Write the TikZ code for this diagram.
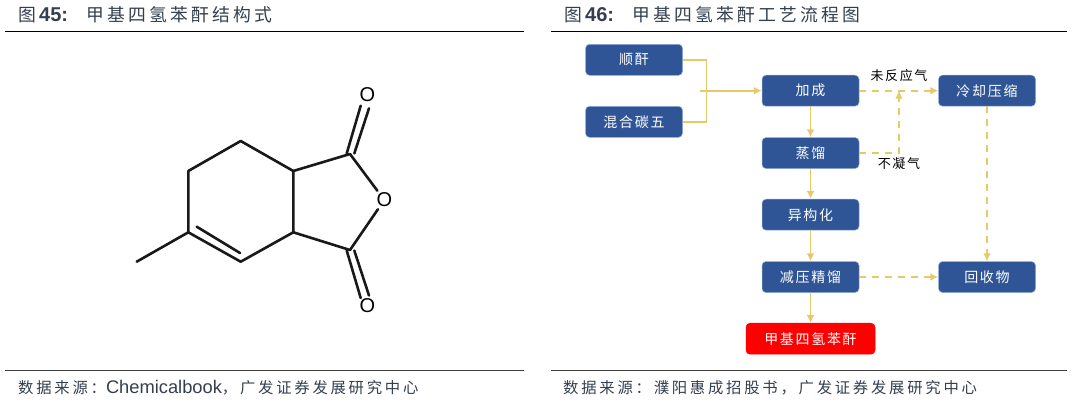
\documentclass[tikz,border=0pt]{standalone}
\usepackage{fontspec}
\setmainfont{Liberation Sans}
\newfontfamily\cjk[LetterSpace=18]{Noto Sans CJK SC}
\newfontfamily\cjkbox[LetterSpace=12]{Noto Sans CJK SC}
\usetikzlibrary{positioning}
\usetikzlibrary{arrows.meta}
\definecolor{boxblue}{HTML}{2F5597}
\definecolor{boxedge}{HTML}{8FAADC}
\definecolor{lineyellow}{HTML}{E8C968}
\definecolor{titlegray}{HTML}{333F4F}
\tikzset{
    stepbox/.style = {rectangle, rounded corners=4pt, draw=boxedge, line width=0.5pt, fill=boxblue, text=white, minimum width=97pt, minimum height=31pt, inner sep=0pt, font=\fontsize{14}{16}\selectfont\cjkbox},
    prodbox/.style = {stepbox, draw=red, fill=red, minimum width=129pt},
    titletext/.style = {anchor=west, inner sep=0pt, text=titlegray, font=\fontsize{17.8}{20}\selectfont},
    srctext/.style = {anchor=west, inner sep=0pt, text=titlegray, font=\fontsize{15.35}{18}\selectfont},
    linelabel/.style = {inner sep=0pt, font=\fontsize{13}{15}\selectfont\cjkbox},
    atom/.style = {inner sep=2pt, font=\fontsize{20}{22}\selectfont},
    rulet/.style = {line width=1.2pt, black},
    ruleb/.style = {line width=1pt, black!75},
    bond/.style = {line width=2.6pt, black!90, line join=round, line cap=round},
    edgey/.style = {-{Latex[length=8pt,width=8pt]}, line width=1.8pt, lineyellow},
    edgel/.style = {line width=1.8pt, lineyellow},
    edgeyd/.style = {edgey, dash pattern=on 7pt off 6pt},
}
\newcommand{\fignum}[1]{\textbf{\fontsize{20}{20}\selectfont #1}}
\newcommand{\latin}[1]{{\fontsize{18.3}{18}\selectfont #1}}
\newcommand{\wcolon}{\char"FF1A\relax}
\newcommand{\wcomma}{\char"FF0C\relax}
\begin{document}
\begin{tikzpicture}[x=1pt,y=-1pt]
  \useasboundingbox (0,0) rectangle (1080,407);

  % headings and sources
  \node[titletext] (title1) at (18,14.5) {{\cjk 图}\fignum{45:}\hspace{18pt}{\cjk 甲基四氢苯酐结构式}};
  \node[titletext] (title2) at (564,14.5) {{\cjk 图}\fignum{46:}\hspace{18pt}{\cjk 甲基四氢苯酐工艺流程图}};
  \node[srctext] (src1) at (18,387.5) {{\cjk 数据来源\wcolon}\latin{Chemicalbook}{\cjk \wcomma 广发证券发展研究中心}};
  \node[srctext] (src2) at (563,387.5) {{\cjk 数据来源\wcolon 濮阳惠成招股书\wcomma 广发证券发展研究中心}};
  \draw[rulet] (5,31.5) -- (524,31.5);
  \draw[rulet] (551,31.5) -- (1067,31.5);
  \draw[ruleb] (5,370.5) -- (524,370.5);
  \draw[ruleb] (551,370.5) -- (1067,370.5);

  % molecule
  \coordinate (me) at (136.7,261.7);
  \coordinate (c5) at (188.3,232.3);
  \coordinate (c6) at (188.3,171);
  \coordinate (c7) at (240.7,141);
  \coordinate (c3a) at (293.3,171);
  \coordinate (c7a) at (293.3,232.3);
  \coordinate (c4) at (240.7,261.7);
  \coordinate (c1) at (350,154);
  \coordinate (c3) at (350,250);
  \coordinate (db1) at (196.7,226.7);
  \coordinate (db2) at (240,253);
  \coordinate (ct1) at (346.7,153.5);
  \coordinate (ct2) at (354.3,153.5);
  \coordinate (ot1) at (360.7,105.7);
  \coordinate (ot2) at (369,108.3);
  \coordinate (cb1) at (346.7,250.5);
  \coordinate (cb2) at (354.3,250.5);
  \coordinate (ob1) at (360.7,298);
  \coordinate (ob2) at (369,295.5);
  \node[atom] (oring) at (384.3,200) {O};
  \node[atom] (otop) at (367.3,94.3) {O};
  \node[atom] (obot) at (367.3,306) {O};
  \draw[bond] (me) -- (c5) -- (c6) -- (c7) -- (c3a) -- (c7a) -- (c4) -- (c5);
  \draw[bond] (db1) -- (db2);
  \draw[bond] (c3a) -- (c1) -- (oring);
  \draw[bond] (c7a) -- (c3) -- (oring);
  \draw[bond] (ct1) -- (ot1);
  \draw[bond] (ct2) -- (ot2);
  \draw[bond] (cb1) -- (ob1);
  \draw[bond] (cb2) -- (ob2);

  % flow chart
  \node[stepbox] (shun) at (634,59.8) {顺酐};
  \node[stepbox] (mix) at (634,121.8) {混合碳五};
  \node[stepbox] (add) at (810.5,90.7) {加成};
  \node[stepbox] (dist) at (810.5,153) {蒸馏};
  \node[stepbox] (iso) at (810.5,214.7) {异构化};
  \node[stepbox] (vac) at (810.5,277) {减压精馏};
  \node[prodbox] (prod) at (810.5,338.7) {甲基四氢苯酐};
  \node[stepbox] (cool) at (987,90.7) {冷却压缩};
  \node[stepbox] (rec) at (987,277) {回收物};
  \node[linelabel] (lab1) at (899,75.5) {未反应气};
  \node[linelabel] (lab2) at (899,164) {不凝气};

  \coordinate (start) at (700,90.7);
  \coordinate (mergex) at (706.5,90.7);
  \coordinate (meet) at (899,90.7);

  \draw[edgel] (shun.east) -| (mergex);
  \draw[edgel] (mix.east) -| (mergex);
  \draw[edgey] (start) -- (add.west);
  \draw[edgey] (add) -- (dist);
  \draw[edgey] (dist) -- (iso);
  \draw[edgey] (iso) -- (vac);
  \draw[edgey] (vac) -- (prod);
  \draw[edgeyd] (add) -- (cool);
  \draw[edgeyd] (dist.east) -| (meet);
  \draw[edgeyd] (cool) -- (rec);
  \draw[edgeyd] (vac) -- (rec);
\end{tikzpicture}
\end{document}
